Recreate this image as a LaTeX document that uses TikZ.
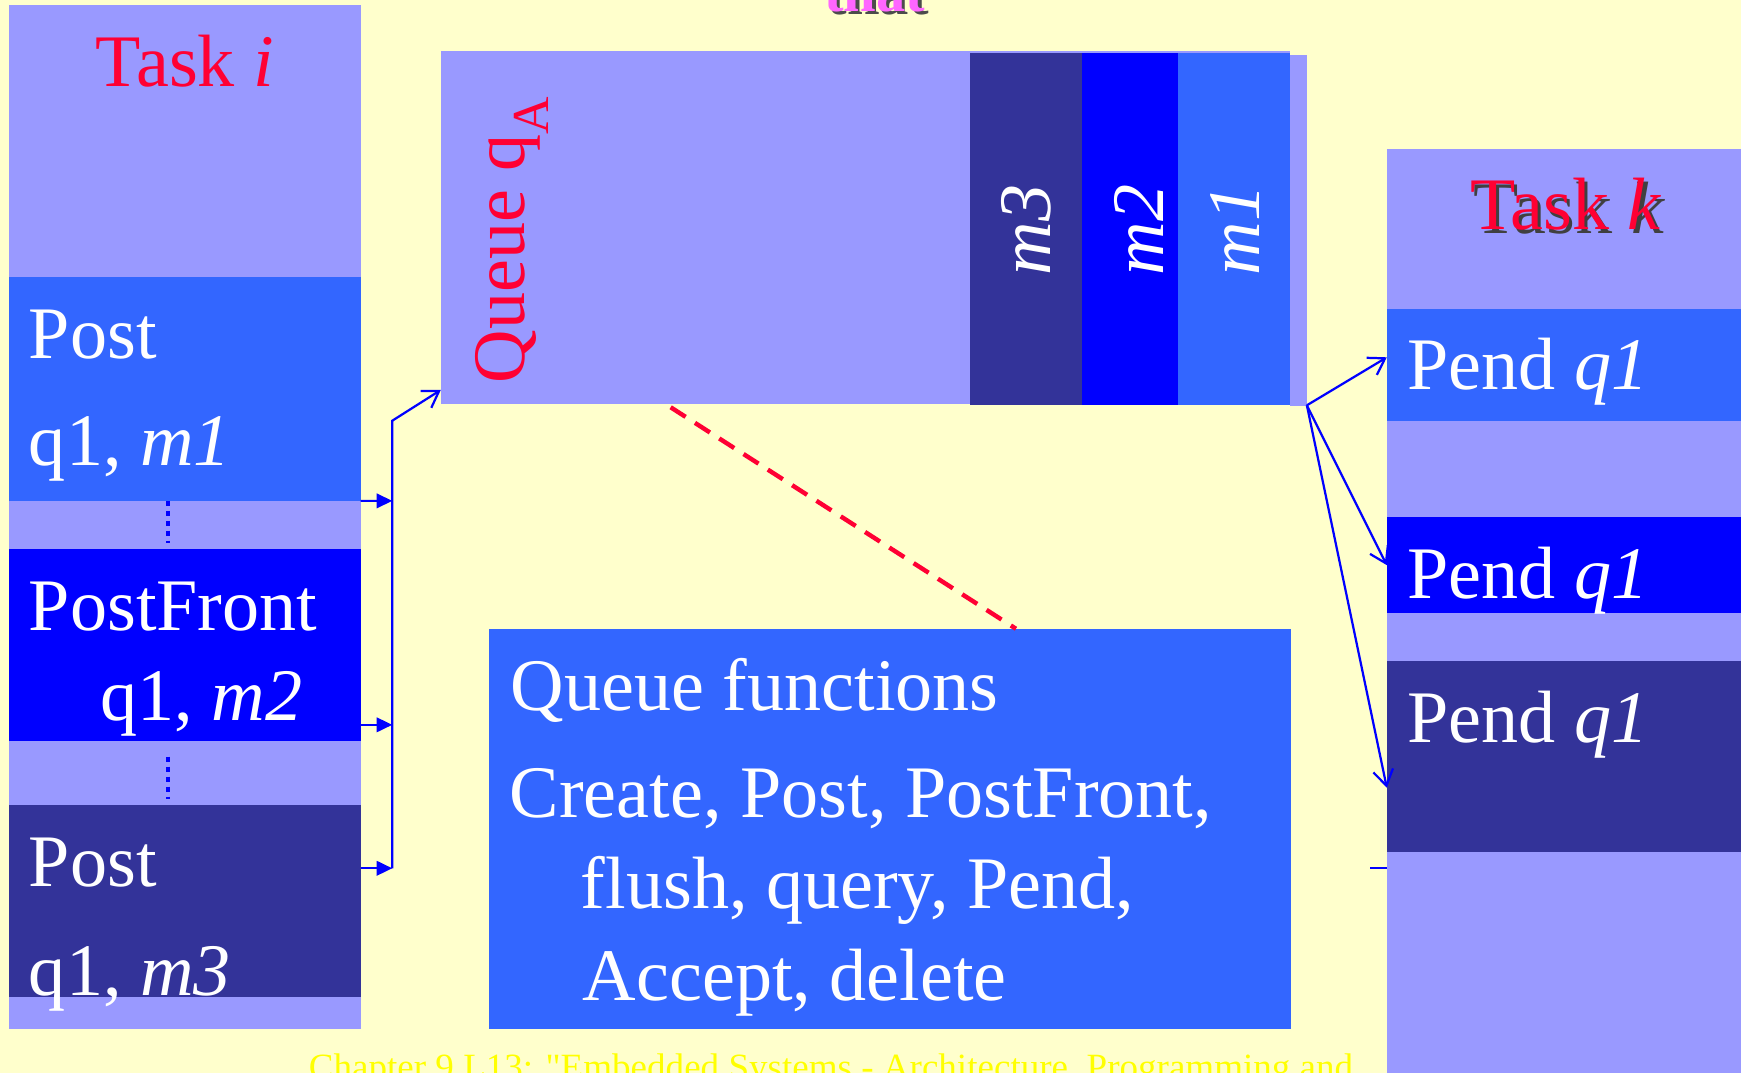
\documentclass[tikz,border=0pt]{standalone}
\usepackage{fontspec}
\setmainfont{Liberation Serif}
\newfontfamily\footfont{Liberation Serif}
\usetikzlibrary{arrows.meta}
\definecolor{slidebg}{HTML}{FFFFCC}
\definecolor{lav}{HTML}{9999FF}
\definecolor{midblue}{HTML}{3366FF}
\definecolor{pureblue}{HTML}{0000FF}
\definecolor{darkblue}{HTML}{333399}
\definecolor{titlered}{HTML}{FF0033}
\definecolor{pinkish}{HTML}{FF66FF}
\definecolor{footyellow}{HTML}{FFFF00}

\begin{document}
\begin{tikzpicture}[x=1bp, y=-1bp,
    seg/.style={inner sep=0pt, outer sep=0pt, anchor=north west},
    big/.style={font=\fontsize{67}{80}\selectfont, inner sep=0pt},
    lbl/.style={big, anchor=base west, text=white},
    feed/.style={pureblue, line width=2bp, -{Triangle[length=14bp,width=13bp]}},
    post/.style={pureblue, line width=2bp, -{Straight Barb[length=14bp,width=18bp]}},
    link/.style={titlered, line width=4bp, dash pattern=on 16bp off 10bp},
    dots/.style={pureblue, line width=4bp, dash pattern=on 5bp off 4bp}]
    \fill[slidebg] (0,0) rectangle (1568,966);
    \useasboundingbox (0,0) rectangle (1568,966);

    \node[font=\fontsize{53}{60}\selectfont\bfseries, text=black!70, anchor=base, inner sep=0pt] (titleshadow) at (791,13) {that};
    \node[font=\fontsize{53}{60}\selectfont\bfseries, text=pinkish, anchor=base, inner sep=0pt] (title) at (788,10) {that};

    \node[seg, fill=lav, minimum width=316.4bp, minimum height=922.1bp] (taski) at (8.3,4.5) {};
    \node[seg, fill=midblue, minimum width=316.4bp, minimum height=201.9bp] (posta) at (8.3,249.2) {};
    \node[seg, fill=pureblue, minimum width=316.4bp, minimum height=172.9bp] (postfront) at (8.3,494.3) {};
    \node[seg, fill=darkblue, minimum width=316.4bp, minimum height=173.1bp] (postc) at (8.3,724.8) {};

    \node[seg, fill=lav, minimum width=765bp, minimum height=318bp] (queue) at (397,46) {};
    \node[seg, fill=lav, minimum width=15bp, minimum height=316.5bp] (qtail) at (1162,49.5) {};
    \foreach \cell/\xpos/\cellw/\col in {m3/873.6/101/darkblue, m2/974.6/86.4/pureblue, m1/1061/101/midblue} {
      \node[seg, fill=\col, minimum width=\cellw bp, minimum height=317.3bp] (cell\cell) at (\xpos,47.4) {};
    }

    \node[seg, fill=midblue, minimum width=721.9bp, minimum height=359.9bp] (fns) at (440.4,566.7) {};

    \node[seg, fill=lav, minimum width=319bp, minimum height=836bp] (taskk) at (1249,134.2) {};
    \node[seg, fill=midblue, minimum width=319bp, minimum height=100.5bp] (pendA) at (1249,278.3) {};
    \node[seg, fill=pureblue, minimum width=319bp, minimum height=86bp] (pendB) at (1249,466) {};
    \node[seg, fill=darkblue, minimum width=319bp, minimum height=172.4bp] (pendC) at (1249,595.3) {};

    \node[big, anchor=base, text=titlered] (taskititle) at (166.6,78) {Task \textit{i}};
    \node[lbl] (postAtxt) at (25.9,322.7) {Post};
    \node[lbl] (argAtxt) at (25.9,419.6) {q1, \textit{m1}};
    \node[lbl] (postBtxt) at (25.9,568) {PostFront};
    \node[lbl] (argBtxt) at (90.5,648.6) {q1, \textit{m2}};
    \node[lbl] (postCtxt) at (25.9,798.1) {Post};
    \node[lbl] (argCtxt) at (25.9,896.2) {q1, \textit{m3}};

    \node[big, rotate=90, anchor=base, text=titlered] (queuelabel) at (472,216) {Queue q\textsubscript{A}};
    \foreach \cell/\xpos in {m3/924, m2/1026, m1/1112} {
      \node[big, rotate=90, text=white] (lbl\cell) at (\xpos,207) {\textit{\cell}};
    }

    \node[lbl] (fnhead) at (460,639.6) {Queue functions};
    \node[lbl] (fnlineA) at (459,736.2) {Create, Post, PostFront,};
    \node[lbl] (fnlineB) at (523,818.5) {flush, query, Pend,};
    \node[lbl] (fnlineC) at (524.8,900.8) {Accept, delete};

    \node[big, anchor=base, text=black!75] (taskkshadow) at (1413.5,210) {Task \textit{k}};
    \node[big, anchor=base, text=titlered] (taskktitle) at (1410.5,207) {Task \textit{k}};
    \foreach [count=\i] \ypos in {351.2, 539.4, 669} {
      \node[lbl] (pendtxt\i) at (1267.6,\ypos) {Pend \textit{q1}};
    }

    \node[font=\footfont\fontsize{33.5}{40}\selectfont, text=footyellow, anchor=base west, inner sep=0pt] (footer) at (278,972) {Chapter 9 L13: "Embedded Systems - Architecture, Programming and};

    \coordinate (busTop) at (353.3,378.9);
    \coordinate (busA) at (353.3,451.1);
    \coordinate (busB) at (353.3,652.8);
    \coordinate (busC) at (353.3,782);
    \coordinate (qin) at (397,351.2);
    \coordinate (qout) at (1177,365);
    \coordinate (kA) at (1249,321.8);
    \coordinate (kC) at (1249,709.4);
    \coordinate (stub) at (1234,782);
    \coordinate (dashA) at (604,366.8);
    \coordinate (dashB) at (915,566.3);
    \coordinate (dotA) at (151.5,451);
    \coordinate (dotB) at (151.5,489);
    \coordinate (dotC) at (151.5,681.5);
    \coordinate (dotD) at (151.5,719.4);

    \draw[dots] (dotA) -- (dotB);
    \draw[dots] (dotC) -- (dotD);

    \draw[feed] (posta.south east) -- (busA);
    \draw[feed] (taski.east |- busB) -- (busB);
    \draw[feed] (taski.east |- busC) -- (busC);
    \draw[post] (busC) -- (busTop) -- (qin);

    \draw[post] (qout) -- (kA);
    \draw[post] (qout) -- (pendB.west);
    \draw[post] (qout) -- (kC);
    \draw[pureblue, line width=2bp] (stub) -- (taskk.west |- stub);

    \draw[link] (dashA) -- (dashB);
\end{tikzpicture}
\end{document}
